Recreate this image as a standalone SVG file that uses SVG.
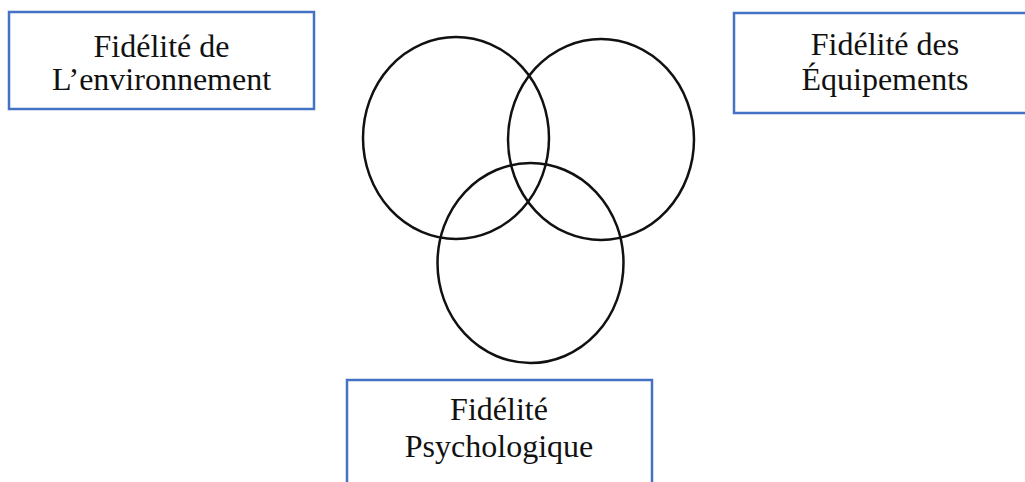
<svg xmlns="http://www.w3.org/2000/svg" width="1025" height="482" viewBox="0 0 1025 482">
<style>
.box{fill:#fff;stroke:#4472C4;stroke-width:2.5}
.ring{fill:none;stroke:#111;stroke-width:2.5}
.t{font-family:"Liberation Serif","Times New Roman",serif;font-size:32px;fill:#111;text-anchor:middle}
</style>
<rect width="1025" height="482" fill="#fff"/>
<g id="node-environnement">
<rect class="box" x="9" y="12" width="305" height="97"/>
<text class="t" x="161.5" y="57">Fidélité de</text>
<text class="t" x="161.5" y="90">L’environnement</text>
</g>
<g id="node-equipements">
<rect class="box" x="734" y="13" width="303" height="100"/>
<text class="t" x="885" y="55">Fidélité des</text>
<text class="t" x="885" y="90">Équipements</text>
</g>
<g id="node-psychologique">
<rect class="box" x="347" y="380" width="305" height="110"/>
<text class="t" x="499" y="420">Fidélité</text>
<text class="t" x="499" y="457">Psychologique</text>
</g>
<g id="connectors">
<ellipse class="ring" cx="456" cy="138" rx="93" ry="101"/>
<ellipse class="ring" cx="601" cy="139.5" rx="93" ry="100.5"/>
<ellipse class="ring" cx="530.5" cy="263" rx="93" ry="100"/>
</g>
</svg>
